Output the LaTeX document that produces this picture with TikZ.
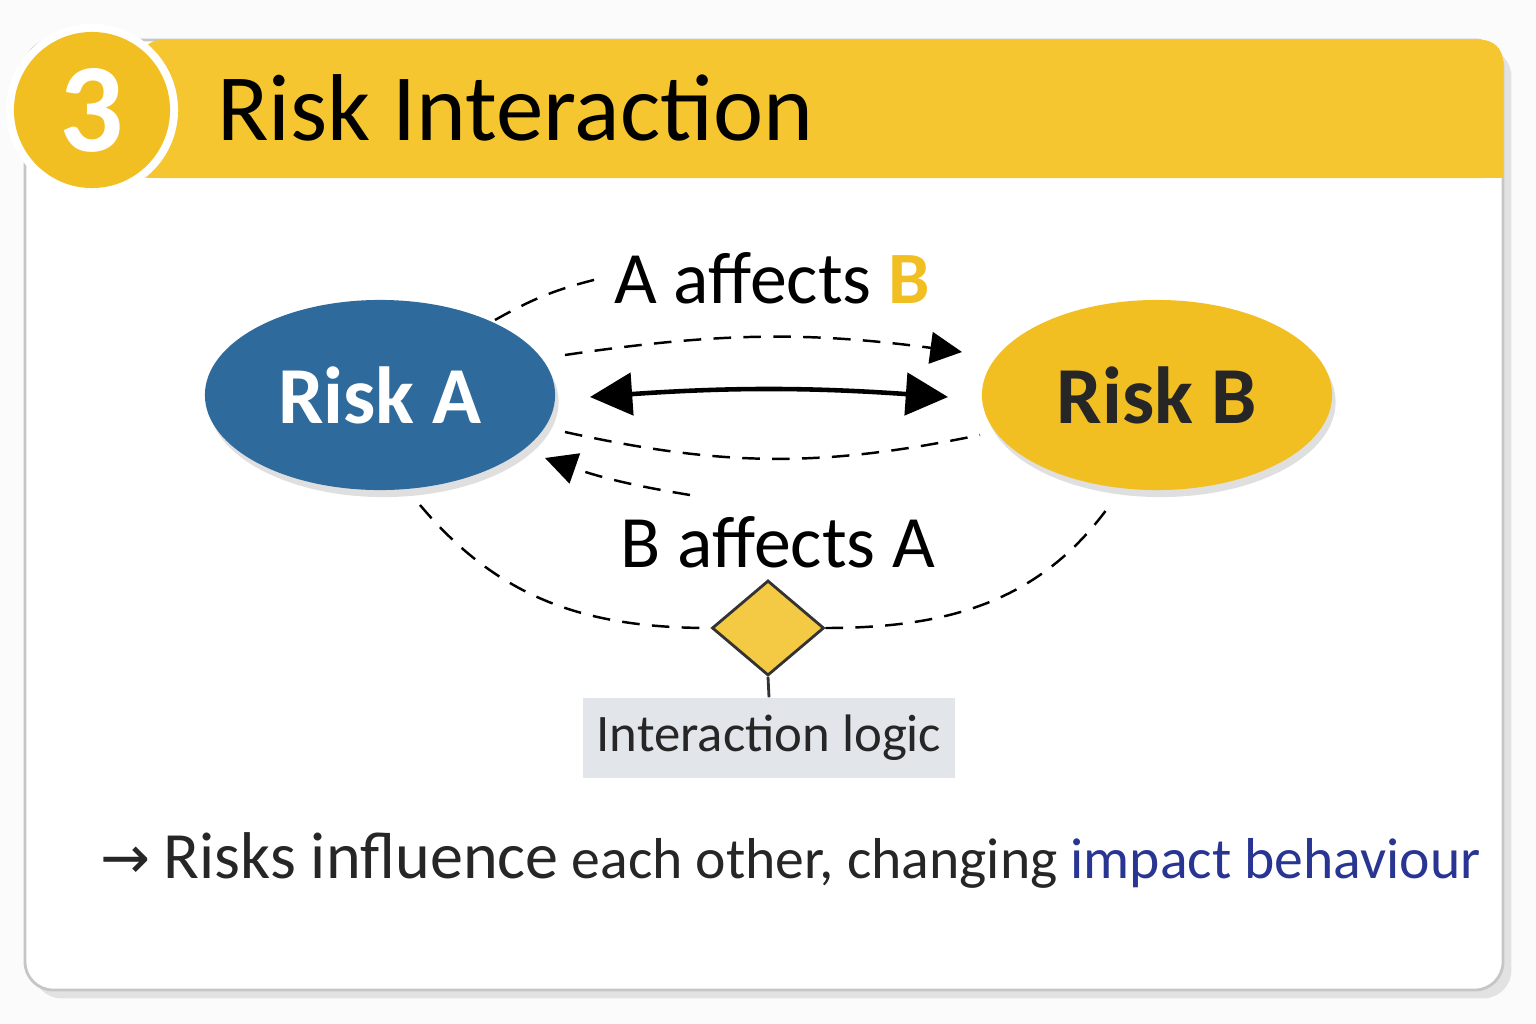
\documentclass[tikz,border=0pt]{standalone}
\usepackage{fontspec}
\setmainfont{Carlito}
\newfontfamily\symfont{DejaVu Sans}
\usetikzlibrary{arrows.meta,shapes.geometric,positioning,shadows}
\definecolor{riskblue}{HTML}{2F6A9C}
\definecolor{riskyellow}{HTML}{F2BF22}
\definecolor{bandyellow}{HTML}{F6C630}
\definecolor{logicgray}{HTML}{E2E5EA}
\definecolor{navy}{HTML}{283593}
\begin{document}
\begin{tikzpicture}[x=0.01cm,y=-0.01cm,
  risk node/.style={ellipse,minimum width=3.5cm,minimum height=1.9cm,inner sep=0,font=\fontsize{23}{26}\selectfont\bfseries,drop shadow={opacity=.25,shadow xshift=1pt,shadow yshift=-2pt}},
  flow/.style={dashed,dash pattern=on 5pt off 3.5pt,line width=0.7pt},
  tip/.style={-{Triangle[length=9pt,width=9pt]}}]
\useasboundingbox (0,0) rectangle (1536,1024);
\fill[white!97!gray] (0,0) rectangle (1536,1024);
% card
\draw[gray!45,line width=0.8pt,fill=white,rounded corners=8pt,drop shadow={opacity=.2}] (25,40) rectangle (1503,990);
\fill[bandyellow,rounded corners=6pt] (140,40) rectangle (1503,178);
\fill[bandyellow] (140,100) rectangle (1503,178);
\node[circle,fill=white,minimum size=1.72cm] (ring) at (92,110) {};
\node[circle,fill=riskyellow,minimum size=1.56cm,text=white,font=\fontsize{36}{36}\selectfont\bfseries] (num) at (92,110) {3};
\node[anchor=west,font=\fontsize{27}{30}\selectfont] (title) at (205,108) {Risk Interaction};
% risks
\node[risk node,fill=riskblue,text=white] (A) at (380,395) {Risk A};
\node[risk node,fill=riskyellow,text=black!85] (B) at (1157,395) {Risk B};
\draw[line width=1.3pt,{Triangle[length=12pt,width=12pt]}-{Triangle[length=12pt,width=12pt]}] (590,397) to[bend left=4] (948,397);
% labels
\node[font=\fontsize{21}{24}\selectfont] (ab) at (772,278) {A affects \textcolor{riskyellow}{\bfseries B}};
\node[font=\fontsize{21}{24}\selectfont] (ba) at (778,542) {B affects A};
\draw[flow] (495,320) to[bend left=8] (ab.west);
\draw[flow,tip] (565,355) to[bend left=8] (962,352);
\draw[flow] (565,432) to[bend right=12] (980,435);
\draw[flow,tip] (690,495) to[bend left=5] (545,458);
% logic
\node[diamond,draw=black!80,line width=0.8pt,fill=riskyellow!85,minimum width=1.12cm,minimum height=0.95cm,inner sep=0] (D) at (768,628) {};
\draw[flow] (420,505) to[out=-50,in=180] (D.west);
\draw[flow] (D.east) to[out=0,in=-125] (1112,502);
\node[fill=logicgray,minimum width=3.72cm,minimum height=0.8cm,font=\fontsize{15}{18}\selectfont,text=black!85] (L) at (769,738) {Interaction logic};
\draw[line width=0.8pt,black!80] (D.south) -- (L.north);
\node[anchor=west,font=\fontsize{16.4}{20}\selectfont,text=black!85,inner sep=0] (note) at (100,860) {{\symfont\fontsize{17}{18}\selectfont →} {\fontsize{18.8}{22}\selectfont Risks influence} each other, changing \textcolor{navy}{impact behaviour}};
\end{tikzpicture}
\end{document}
